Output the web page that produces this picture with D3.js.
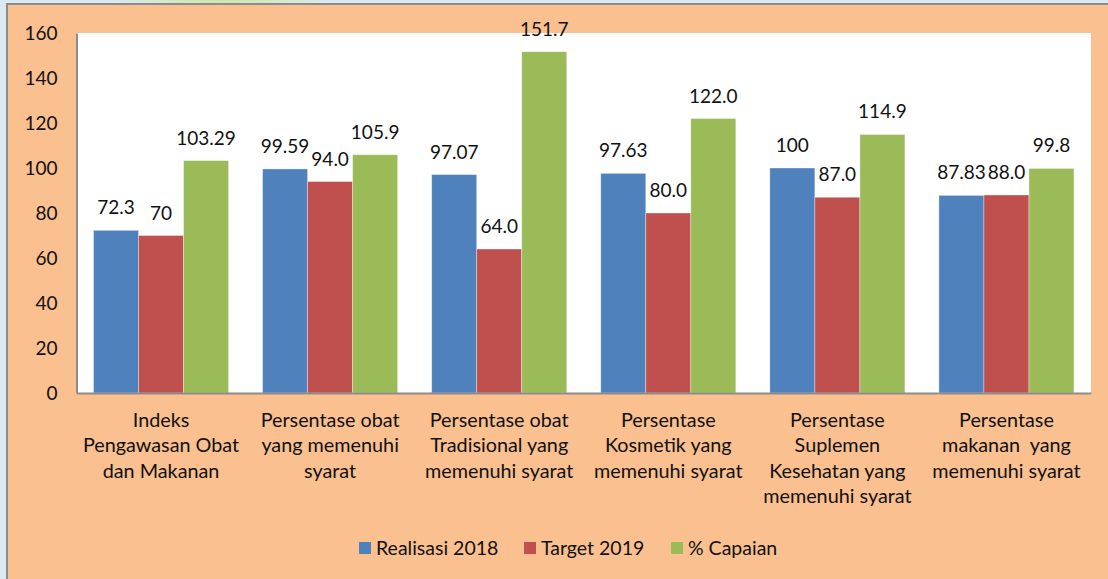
<!DOCTYPE html>
<html>
<head>
<meta charset="utf-8">
<script src="https://cdn.jsdelivr.net/npm/d3@7"></script>
<style>
  html, body { margin: 0; padding: 0; background: #dbe9f1; }
  svg { display: block; }
  text { font-family: Lato, "Open Sans", sans-serif; fill: #111; }
</style>
</head>
<body>
<svg id="chart" width="1108" height="579"></svg>
<script>
// Category labels (multi-line)
const categories = [
  ["Indeks", "Pengawasan Obat", "dan Makanan"],
  ["Persentase obat", "yang memenuhi", "syarat"],
  ["Persentase obat", "Tradisional yang", "memenuhi syarat"],
  ["Persentase", "Kosmetik yang", "memenuhi syarat"],
  ["Persentase", "Suplemen", "Kesehatan yang", "memenuhi syarat"],
  ["Persentase", "makanan  yang", "memenuhi syarat"]
];
const seriesNames = ["Realisasi 2018", "Target 2019", "% Capaian"];
const realisasi2018 = [72.3, 99.59, 97.07, 97.63, 100, 87.83];
const target2019   = [70, 94.0, 64.0, 80.0, 87.0, 88.0];
const capaian      = [103.29, 105.9, 151.7, 122.0, 114.9, 99.8];
// Labels as printed above each bar
const realisasiLabels = ["72.3", "99.59", "97.07", "97.63", "100", "87.83"];
const targetLabels    = ["70", "94.0", "64.0", "80.0", "87.0", "88.0"];
const capaianLabels   = ["103.29", "105.9", "151.7", "122.0", "114.9", "99.8"];
const yTicks = [0, 20, 40, 60, 80, 100, 120, 140, 160];

const colors = ["#4f81bd", "#c0504d", "#9bbb59"];
const seriesValues = [realisasi2018, target2019, capaian];
const seriesLabels = [realisasiLabels, targetLabels, capaianLabels];

const FONT = "19px";
const CAT_FONT = "19.8px";

const svg = d3.select("#chart");

// Backdrop strip behind the chart panel
const defs = svg.append("defs");
const g1 = defs.append("radialGradient").attr("id", "blob");
g1.append("stop").attr("offset", "0%").attr("stop-color", "#d2e4a0");
g1.append("stop").attr("offset", "100%").attr("stop-color", "#dbe9f1");
svg.append("rect").attr("x", 0).attr("y", 0).attr("width", 1108).attr("height", 579).attr("fill", "#dbe9f1");
svg.append("ellipse").attr("cx", 220).attr("cy", 0).attr("rx", 110).attr("ry", 8).attr("fill", "url(#blob)");

// Chart panel
svg.append("rect")
  .attr("x", 7).attr("y", 4).attr("width", 1110).attr("height", 590)
  .attr("fill", "#fac090").attr("stroke", "#8c8c8c").attr("stroke-width", 2);

const plot = { left: 76.5, right: 1091, top: 33, bottom: 393 };

const x0 = d3.scaleBand()
  .domain(d3.range(categories.length))
  .range([plot.left, plot.right])
  .paddingInner(0).paddingOuter(0);
// 75% gap width: inner band padding for the three bars
const groupPad = 17 / x0.bandwidth();
const x1 = d3.scaleBand()
  .domain(d3.range(3))
  .range([groupPad * x0.bandwidth(), x0.bandwidth() * (1 - groupPad)]);

const y = d3.scaleLinear().domain([0, 160]).range([plot.bottom, plot.top]);

// Plot area
svg.append("rect")
  .attr("x", plot.left).attr("y", plot.top)
  .attr("width", plot.right - plot.left).attr("height", plot.bottom - plot.top)
  .attr("fill", "#ffffff");

// Bars
const groups = svg.append("g").selectAll("g")
  .data(categories.map((c, i) => i))
  .join("g")
  .attr("transform", i => `translate(${x0(i)},0)`);

groups.selectAll("rect")
  .data(i => seriesValues.map((s, k) => ({ k, v: s[i], label: seriesLabels[k][i] })))
  .join("rect")
  .attr("x", d => x1(d.k))
  .attr("y", d => y(d.v))
  .attr("width", x1.bandwidth())
  .attr("height", d => y(0) - y(d.v))
  .attr("fill", d => colors[d.k])
  .attr("stroke", "rgba(255,255,255,0.45)")
  .attr("stroke-width", 0.8);

// Value labels
groups.selectAll("text.val")
  .data(i => seriesValues.map((s, k) => ({ k, v: s[i], label: seriesLabels[k][i] })))
  .join("text")
  .attr("class", "val")
  .attr("x", d => x1(d.k) + x1.bandwidth() / 2)
  .attr("y", d => y(d.v) - 16)
  .attr("text-anchor", "middle")
  .style("font-size", FONT)
  .text(d => d.label);

// Y axis
const yAxis = d3.axisLeft(y).tickValues(yTicks).tickSize(0).tickPadding(19);
const yg = svg.append("g").attr("transform", `translate(${plot.left},0)`).call(yAxis);
yg.select(".domain").attr("stroke", "#8c8c8c").attr("stroke-width", 2);
yg.selectAll("text").style("font-size", FONT).style("font-family", "Lato, sans-serif").attr("fill", "#111").attr("dy", "0.35em");

// X axis line
const xAxis = d3.axisBottom(x0).tickSize(0).tickFormat("");
const xg = svg.append("g").attr("transform", `translate(0,${plot.bottom})`).call(xAxis);
xg.select(".domain").attr("stroke", "#8c8c8c").attr("stroke-width", 2);

// Category labels
const catG = svg.append("g");
categories.forEach((lines, i) => {
  const t = catG.append("text")
    .attr("x", x0(i) + x0.bandwidth() / 2)
    .attr("y", 427)
    .attr("text-anchor", "middle")
    .style("font-size", CAT_FONT);
  lines.forEach((ln, j) => {
    t.append("tspan")
      .attr("x", x0(i) + x0.bandwidth() / 2)
      .attr("y", 427 + j * 25.3)
      .style("white-space", "pre")
      .text(ln);
  });
});

// Legend
const legendX = [359, 524, 671];
const leg = svg.append("g");
seriesNames.forEach((name, k) => {
  leg.append("rect")
    .attr("x", legendX[k]).attr("y", 542)
    .attr("width", 12).attr("height", 12)
    .attr("fill", colors[k]);
  leg.append("text")
    .attr("x", legendX[k] + 17).attr("y", 554.5)
    .style("font-size", "19.5px")
    .text(name);
});
</script>
</body>
</html>
